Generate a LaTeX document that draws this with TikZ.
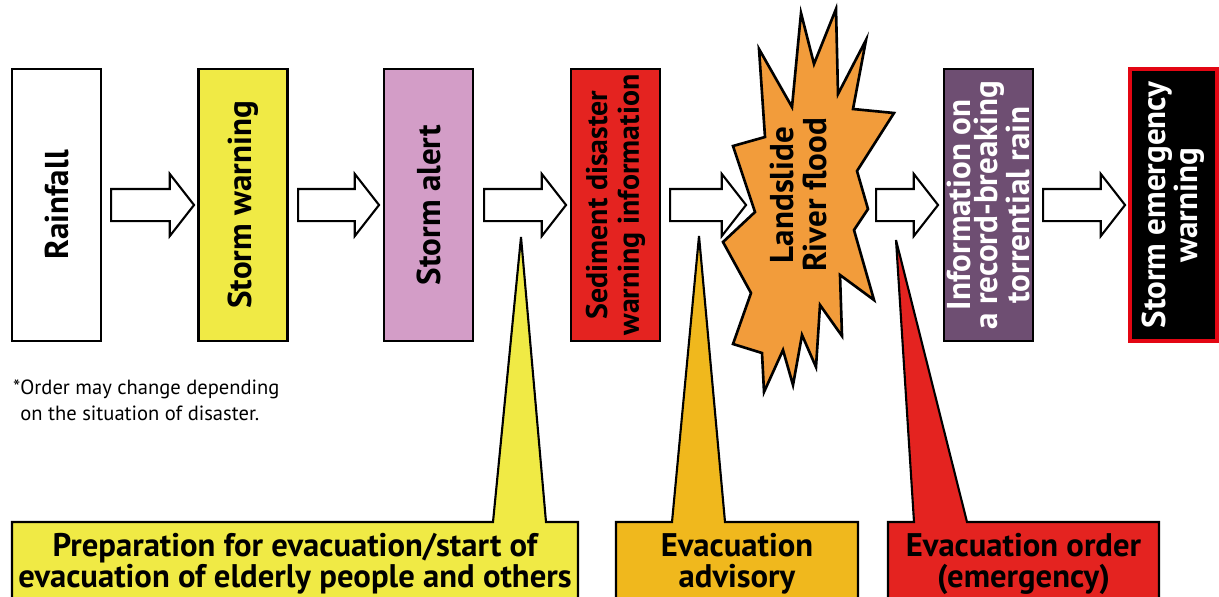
\documentclass[tikz,border=0pt]{standalone}
\usepackage{fontspec}
\setmainfont{PT Sans}
\usetikzlibrary{shapes.arrows}

\definecolor{warnyellow}{HTML}{F0EA45}
\definecolor{alertpink}{HTML}{D39DC7}
\definecolor{sedred}{HTML}{E42320}
\definecolor{burstorange}{HTML}{F29C3B}
\definecolor{infopurple}{HTML}{6E4E72}
\definecolor{emergred}{HTML}{E30613}
\definecolor{advorange}{HTML}{F0B81D}

\begin{document}
\begin{tikzpicture}[x=0.02cm,y=-0.02cm,
    stage/.style={draw, line width=1.5pt, rotate=90, minimum width=5.44cm,
      minimum height=1.78cm, inner sep=0pt, align=center,
      font=\bfseries\fontsize{18.8}{18.8}\selectfont},
    bigarrow/.style={single arrow, draw, fill=white, line width=1.2pt,
      inner sep=0pt, text height=0.6cm, text depth=0pt, anchor=tail,
      single arrow head extend=0.3cm, single arrow tip angle=104},
    callout/.style={draw, line width=1.2pt},
    calltext/.style={anchor=north, align=center,
      font=\bfseries\fontsize{18.6}{17.8}\selectfont}]
  \clip (0,0) rectangle (1219,596);

  % Warning stages
  \node[stage, fill=white] (rain) at (56.5,205) {Rainfall};
  \node[stage, fill=warnyellow] (warn) at (243,205) {Storm warning};
  \node[stage, fill=alertpink] (alert) at (428.5,205) {Storm alert};
  \node[stage, fill=sedred, font=\bfseries\fontsize{17}{18.2}\selectfont] (sed)
    at (615.5,205) {Sediment disaster\\warning information};
  \node[stage, fill=infopurple, text=white,
    font=\bfseries\fontsize{18.8}{15.4}\selectfont] (info) at (988.5,205)
    {Information on\\a record-breaking\\torrential rain};
  \node[stage, fill=black, draw=emergred, line width=2pt, text=white,
    minimum height=1.74cm, font=\bfseries\fontsize{18.8}{17}\selectfont]
    (emerg) at (1173.5,205) {Storm emergency\\warning};

  % Disaster burst
  \draw[line width=1.5pt, fill=burstorange, line join=miter]
    (759,49) -- (792,107) -- (801,13) -- (814,64) -- (836,9) -- (838,94)
    -- (866,40) -- (853,109) -- (894,113) -- (857,171) -- (868,209)
    -- (854,230) -- (874,300) -- (840,275) -- (842,336) -- (820,305)
    -- (816,367) -- (802,335) -- (793,385) -- (783,350) -- (764,392)
    -- (762,353) -- (733,344) -- (751,293) -- (723,242) -- (755,212)
    -- (733,146) -- (765,137) -- cycle;
  \node[rotate=90, align=center, font=\bfseries\fontsize{18.8}{18.8}\selectfont]
    (burst) at (798,195) {Landslide\\River flood};

  % Arrows between stages
  \node[bigarrow, minimum height=1.66cm] (a1) at (110,205) {};
  \node[bigarrow, minimum height=1.62cm] (a2) at (297,205) {};
  \node[bigarrow, minimum height=1.64cm] (a3) at (483,205) {};
  \node[bigarrow, minimum height=1.52cm] (a4) at (669,205) {};
  \node[bigarrow, minimum height=1.24cm] (a5) at (875,205) {};
  \node[bigarrow, minimum height=1.64cm] (a6) at (1042,205) {};

  % Footnote
  \node[anchor=north west, align=left, font=\fontsize{11.7}{14.5}\selectfont]
    (note) at (7,374) {*Order may change depending\\\phantom{*}on the situation of disaster.};

  % Evacuation callouts
  \coordinate (tipprep) at (521,237);
  \draw[callout, fill=warnyellow] (12,620) -- (12,522) -- (493,522) -- (tipprep)
    -- (546,522) -- (578,522) -- (578,620) -- cycle;
  \node[calltext] (prep) at (295,527)
    {Preparation for evacuation/start of\\evacuation of elderly people and others};

  \coordinate (tipadv) at (699,236);
  \draw[callout, fill=advorange] (616,620) -- (616,522) -- (672,522) -- (tipadv)
    -- (725,522) -- (858,522) -- (858,620) -- cycle;
  \node[calltext] (adv) at (737,527) {Evacuation\\advisory};

  \coordinate (tiporder) at (896,240);
  \draw[callout, fill=sedred] (888,620) -- (888,522) -- (914,522) -- (tiporder)
    -- (967,522) -- (1159,522) -- (1159,620) -- cycle;
  \node[calltext] (order) at (1023.5,527) {Evacuation order\\(emergency)};
\end{tikzpicture}
\end{document}
